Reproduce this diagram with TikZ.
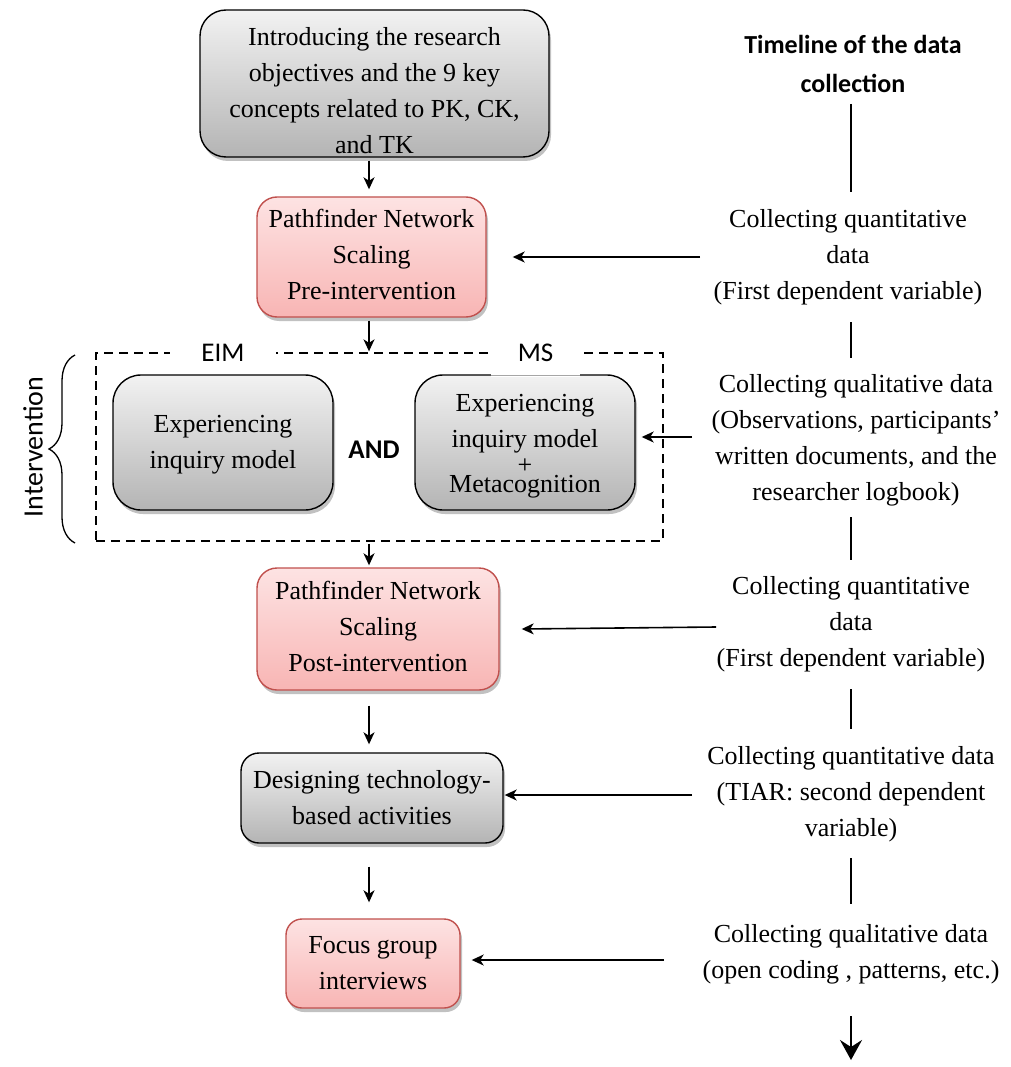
\documentclass[tikz,border=0pt]{standalone}
\usepackage{fontspec}
\setmainfont{Liberation Serif}
\setsansfont{Carlito}
\usetikzlibrary{arrows.meta,shadows,decorations.pathreplacing}

\definecolor{pinkedge}{HTML}{C0504D}
\definecolor{pinktop}{HTML}{FDE3E3}
\definecolor{pinkbot}{HTML}{F8B5B4}
\definecolor{greytop}{HTML}{F2F2F2}
\definecolor{greybot}{HTML}{B4B4B4}

\tikzset{
  body/.style={font=\rmfamily\fontsize{26}{36}\selectfont},
  txt/.style={body, align=center, inner sep=0pt},
  box/.style={inner sep=0pt, line width=1.4pt,
    drop shadow={shadow xshift=2pt, shadow yshift=-4pt, opacity=0.35, fill=black!70}},
  greybox/.style={box, draw=black, top color=greytop, bottom color=greybot},
  pinkbox/.style={box, draw=pinkedge, top color=pinktop, bottom color=pinkbot},
  arr/.style={line width=1.6pt, -{Stealth[length=12pt,width=11pt,inset=3.5pt]}},
  tl/.style={line width=2.4pt},
  lab/.style={font=\sffamily\fontsize{27}{30}\selectfont, inner sep=0pt}
}

\begin{document}
\begin{tikzpicture}[x=1pt, y=-1pt]
\useasboundingbox (0,0) rectangle (1010,1067);

% ---- main flow ----
\node[greybox, rounded corners=26pt, minimum width=349pt, minimum height=147pt,
  label={[txt, yshift=-7.5pt]center:{Introducing the research\\objectives and the 9 key\\concepts related to PK, CK,\\and TK}}]
  (intro) at (374.5,83.5) {};

\node[pinkbox, rounded corners=20pt, minimum width=229pt, minimum height=120pt,
  label={[txt, yshift=2.5pt]center:{Pathfinder Network\\Scaling\\Pre-intervention}}]
  (pre) at (371.5,257) {};

% intervention group
\node[draw, dashed, dash pattern=on 9pt off 6pt, line width=1.3pt,
      minimum width=567pt, minimum height=188pt, inner sep=0pt] (grp) at (379.5,447) {};

\node[greybox, rounded corners=28pt, minimum width=220pt, minimum height=135pt,
  label={[txt, yshift=-2pt]center:{Experiencing\\inquiry model}}]
  (eim) at (223,442.5) {};

\node[greybox, rounded corners=28pt, minimum width=220pt, minimum height=135pt,
  label={[txt, yshift=-4pt]center:{Experiencing\\inquiry model\\[-10pt]+\\[-17pt]Metacognition}}]
  (ms) at (525,442.5) {};

\node[font=\sffamily\bfseries\fontsize{27}{30}\selectfont, inner sep=0pt] (and) at (374,450) {AND};

% group labels sitting on the dashed border
\node[lab, fill=white, minimum width=106pt, minimum height=14pt] (eimlab) at (223,353) {EIM};
\fill[white] (491,345) rectangle (580,376.5);
\draw[gray!70, line width=0.8pt] (491,375.5) -- (580,375.5);
\node[lab, fill=white, minimum width=89pt, minimum height=14pt] (mslab) at (535.5,353) {MS};

% brace and side label
\draw[line width=1.3pt, decorate, decoration={brace, amplitude=26pt}] (75,543) -- (75,355);
\node[font=\sffamily\fontsize{28}{30}\selectfont, rotate=90, inner sep=0pt] (intv) at (33,447) {Intervention};

\node[pinkbox, rounded corners=20pt, minimum width=242pt, minimum height=122pt,
  label={[txt, yshift=3pt]center:{Pathfinder Network\\Scaling\\Post-intervention}}]
  (post) at (378,629) {};

\node[greybox, rounded corners=18pt, minimum width=262pt, minimum height=90pt,
  label={[txt]center:{Designing technology-\\based activities}}]
  (design) at (372,798) {};

\node[pinkbox, rounded corners=16pt, minimum width=174pt, minimum height=89pt,
  label={[txt]center:{Focus group\\interviews}}]
  (focus) at (373,963.5) {};

% flow arrows
\draw[arr, shorten <=3pt, shorten >=7pt] (intro.south -| 369,0) -- (pre.north -| 369,0);
\draw[arr, shorten <=3pt, shorten >=1pt] (pre.south -| 369,0) -- (grp.north -| 369,0);
\draw[arr, shorten <=2pt, shorten >=2pt] (grp.south -| 369,0) -- (post.north -| 369,0);
\draw[arr, shorten <=15pt, shorten >=8pt] (post.south -| 369,0) -- (design.north -| 369,0);
\draw[arr, shorten <=23pt, shorten >=16pt] (design.south -| 369,0) -- (focus.north -| 369,0);

% ---- timeline column ----
\node[font=\sffamily\bfseries\fontsize{26}{39}\selectfont, align=center, inner sep=0pt] (title) at (853,63.5)
  {Timeline of the data\\collection};

\node[txt] (q1) at (848,257) {Collecting quantitative\\data\\(First dependent variable)};
\node[txt] (q2) at (856,440) {Collecting qualitative data\\(Observations, participants'\\written documents, and the\\researcher logbook)};
\node[txt] (q3) at (851,624) {Collecting quantitative\\data\\(First dependent variable)};
\node[txt] (q4) at (851,794) {Collecting quantitative data\\(TIAR: second dependent\\variable)};
\node[txt] (q5) at (851,954) {Collecting qualitative data\\(open coding , patterns, etc.)};
\coordinate (tend) at (851,1060);

% timeline segments
\draw[tl] (851,104) -- (851,192);
\draw[tl] (851,322) -- (851,358);
\draw[tl] (851,517) -- (851,560);
\draw[tl] (851,689) -- (851,729);
\draw[tl] (851,858) -- (851,904);
\draw[line width=2.4pt, -{Stealth[length=20pt,width=22pt,inset=7pt]}] (851,1016) -- (tend);

% data collection arrows
\draw[arr] (700,257) -- ([xshift=26pt]pre.east);
\draw[arr] (692,437) -- ([xshift=6pt]ms.east |- 0,437);
\draw[arr] (716,627) -- ([xshift=22pt]post.east);
\draw[arr] (692,795) -- ([xshift=1pt]design.east |- 0,795);
\draw[arr] (664,960) -- ([xshift=11pt]focus.east |- 0,960);
\end{tikzpicture}
\end{document}
